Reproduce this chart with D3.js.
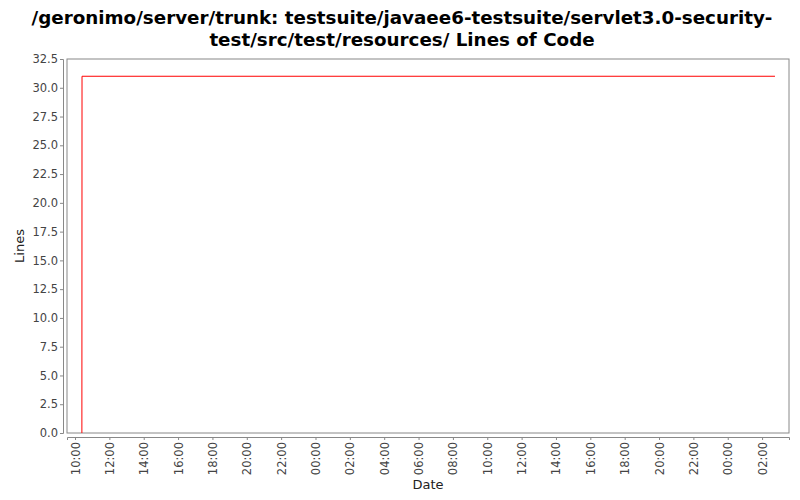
<!DOCTYPE html>
<html><head><meta charset="utf-8">
<script src="https://cdn.jsdelivr.net/npm/d3@7"></script>
<style>body{margin:0;background:#fff}</style>
</head><body>
<svg id="c" width="800" height="500"></svg>
<script>
const titleLines = ["/geronimo/server/trunk: testsuite/javaee6-testsuite/servlet3.0-security-", "test/src/test/resources/ Lines of Code"];
const times = ["2011-01-01T10:24", "2011-01-01T10:24:30", "2011-01-03T02:45"];
const values = [0, 31, 31];
const yTicks = [0,2.5,5,7.5,10,12.5,15,17.5,20,22.5,25,27.5,30,32.5];
const xDomain = ["2011-01-01T09:32", "2011-01-03T03:34"];

const svg = d3.select("#c");
const L = 67, R = 789, T = 59, B = 433;
const parse = d3.isoParse;
const x = d3.scaleTime().domain(xDomain.map(parse)).range([L, R]);
const y = d3.scaleLinear().domain([0, 32.5]).range([B, T]);

svg.append("rect").attr("x", L).attr("y", T).attr("width", R - L).attr("height", B - T)
  .attr("fill", "#fff").attr("stroke", "#888").attr("stroke-width", 1);

const tf = "DejaVu Sans, sans-serif";
svg.selectAll("text.title").data(titleLines).enter().append("text")
  .attr("x", 402).attr("y", (d, i) => 24 + i * 22).attr("text-anchor", "middle")
  .attr("font-family", tf).attr("font-weight", "bold").attr("font-size", 18.3).attr("fill", "#000")
  .text(d => d);

const yAxis = svg.append("g").attr("transform", `translate(${L - 4},0)`)
  .call(d3.axisLeft(y).tickValues(yTicks).tickFormat(d3.format(".1f")).tickSize(3).tickPadding(2));
yAxis.select(".domain").attr("stroke", "#888");
yAxis.selectAll(".tick line").attr("stroke", "#888");
yAxis.selectAll("text").attr("font-family", tf).attr("font-size", 11.5).attr("fill", "#444");

const xTicks = d3.timeHour.every(2).range(parse("2011-01-01T10:00"), parse("2011-01-03T03:00"));
const xAxis = svg.append("g").attr("transform", `translate(0,${B + 4})`)
  .call(d3.axisBottom(x).tickValues(xTicks).tickFormat(d3.timeFormat("%H:%M")).tickSize(3).tickPadding(2));
xAxis.select(".domain").attr("stroke", "#888");
xAxis.selectAll(".tick line").attr("stroke", "#888");
xAxis.selectAll(".tick text").attr("font-family", tf).attr("font-size", 11.5).attr("fill", "#444")
  .attr("text-anchor", "end").attr("x", -5).attr("y", 0).attr("dx", 0).attr("dy", "0.35em").attr("transform", "rotate(-90)");

const pts = times.map((t, i) => [parse(t), values[i]]);
svg.append("path").datum(pts)
  .attr("d", d3.line().x(d => x(d[0])).y(d => y(d[1])))
  .attr("fill", "none").attr("stroke", "#ff0000").attr("stroke-width", 1);

svg.append("text").attr("transform", `translate(24,${(T + B) / 2}) rotate(-90)`)
  .attr("text-anchor", "middle").attr("font-family", tf).attr("font-size", 13).attr("fill", "#222").text("Lines");
svg.append("text").attr("x", (L + R) / 2).attr("y", 489)
  .attr("text-anchor", "middle").attr("font-family", tf).attr("font-size", 13).attr("fill", "#222").text("Date");
</script>
</body></html>
